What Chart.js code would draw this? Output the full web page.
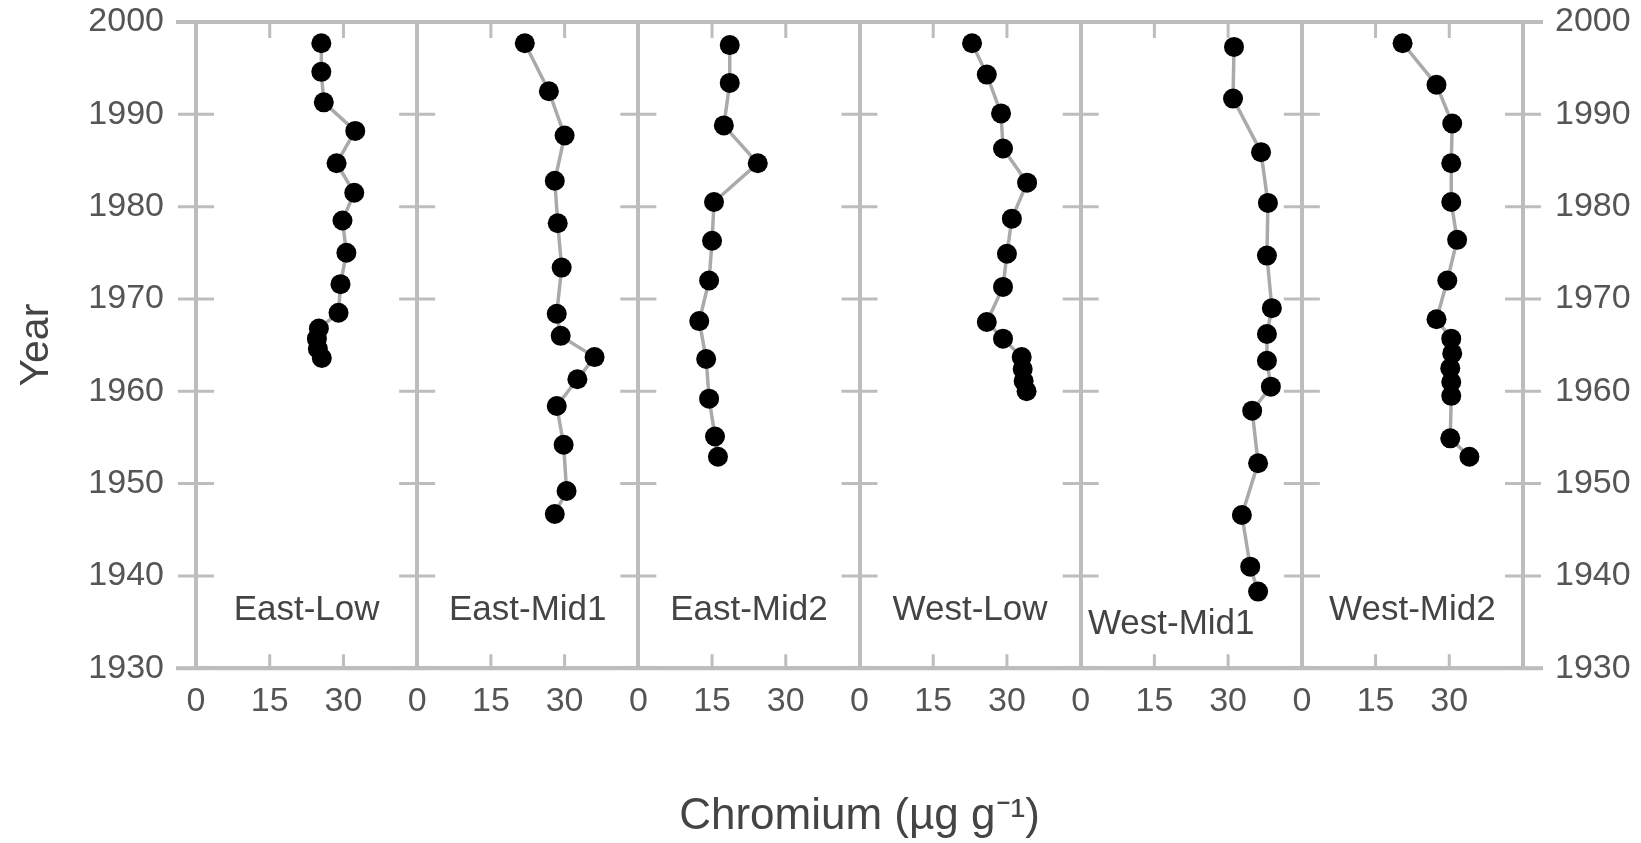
<!DOCTYPE html>
<html>
<head>
<meta charset="utf-8">
<script src="https://cdn.jsdelivr.net/npm/chart.js@4.4.1/dist/chart.umd.min.js"></script>
<style>
  body { margin: 0; background: #fff; }
  canvas { display: block; }
</style>
</head>
<body>
<canvas id="crChart" width="1641" height="843"></canvas>
<script>
// sites, left to right
var sites = ['East-Low', 'East-Mid1', 'East-Mid2', 'West-Low', 'West-Mid1', 'West-Mid2'];
var yearTicks = [1930, 1940, 1950, 1960, 1970, 1980, 1990, 2000];
var crTicks = [0, 15, 30, 45];

// core dates (year) and chromium (ug/g)
var eastLowYear  = [1997.7, 1994.6, 1991.3, 1988.2, 1984.7, 1981.5, 1978.5, 1975.0, 1971.6, 1968.5, 1966.8, 1965.7, 1964.6, 1963.6];
var eastLowCr    = [25.5, 25.5, 26.0, 32.4, 28.6, 32.2, 29.8, 30.6, 29.4, 29.0, 25.0, 24.6, 24.8, 25.6];

var eastMid1Year = [1997.7, 1992.5, 1987.7, 1982.8, 1978.2, 1973.4, 1968.4, 1966.0, 1963.7, 1961.3, 1958.4, 1954.2, 1949.2, 1946.7];
var eastMid1Cr   = [21.9, 26.8, 30.0, 28.0, 28.6, 29.4, 28.4, 29.2, 36.1, 32.6, 28.4, 29.8, 30.4, 28.0];

var eastMid2Year = [1997.5, 1993.4, 1988.8, 1984.7, 1980.5, 1976.3, 1972.0, 1967.6, 1963.5, 1959.2, 1955.1, 1952.9];
var eastMid2Cr   = [18.6, 18.6, 17.4, 24.3, 15.4, 15.0, 14.4, 12.4, 13.8, 14.4, 15.6, 16.2];

var westLowYear  = [1997.7, 1994.3, 1990.1, 1986.3, 1982.6, 1978.7, 1974.9, 1971.3, 1967.5, 1965.7, 1963.7, 1962.4, 1961.1, 1960.0];
var westLowCr    = [22.9, 25.9, 28.8, 29.2, 34.1, 31.0, 30.0, 29.2, 25.9, 29.2, 33.0, 33.2, 33.4, 34.0];

var westMid1Year = [1997.3, 1991.7, 1985.9, 1980.4, 1974.7, 1969.0, 1966.2, 1963.3, 1960.5, 1957.9, 1952.2, 1946.6, 1941.0, 1938.3];
var westMid1Cr   = [31.2, 31.0, 36.7, 38.1, 37.9, 38.9, 37.9, 37.9, 38.7, 34.9, 36.1, 32.8, 34.5, 36.1];

var westMid2Year = [1997.7, 1993.2, 1989.0, 1984.7, 1980.5, 1976.4, 1972.0, 1967.8, 1965.7, 1964.1, 1962.5, 1961.0, 1959.5, 1954.9, 1952.9];
var westMid2Cr   = [20.5, 27.4, 30.6, 30.4, 30.4, 31.6, 29.6, 27.4, 30.4, 30.6, 30.2, 30.4, 30.4, 30.2, 34.1];

var siteYears = [eastLowYear, eastMid1Year, eastMid2Year, westLowYear, westMid1Year, westMid2Year];
var siteCr = [eastLowCr, eastMid1Cr, eastMid2Cr, westLowCr, westMid1Cr, westMid2Cr];

var axisGrey = '#bdbdbd';
var fontFam = '"Liberation Sans", Arial, sans-serif';
var panelIds = sites.map(function (s, i) { return 'x' + (i + 1); });

function pairs(xs, ys) {
    var out = [];
    for (var i = 0; i < xs.length; i++) {
        out.push({ x: xs[i], y: ys[i] });
    }
    return out;
}

var datasets = sites.map(function (name, i) {
    return {
        label: name,
        data: pairs(siteCr[i], siteYears[i]),
        xAxisID: panelIds[i],
        yAxisID: 'y',
        showLine: true,
        borderColor: '#aaaaaa',
        borderWidth: 3.5,
        pointRadius: 10,
        pointHoverRadius: 10,
        pointBackgroundColor: '#000',
        pointBorderColor: '#000',
        pointBorderWidth: 0
    };
});

var yTickOpts = {
    stepSize: 10,
    padding: 32,
    color: '#555',
    font: { family: fontFam, size: 34 },
    callback: function (v) { return String(v); }
};

// keep the tick padding from pushing the plot area down
function noVPad(s) {
    s.paddingTop = 0;
    s.paddingBottom = 0;
}

var scales = {
    y: {
        type: 'linear',
        position: 'left',
        min: yearTicks[0],
        max: yearTicks[yearTicks.length - 1],
        ticks: yTickOpts,
        grid: { display: false, drawTicks: false },
        border: { display: true, color: axisGrey, width: 4 },
        title: {
            display: true,
            text: 'Year',
            color: '#444',
            font: { family: fontFam, size: 41 },
            padding: { top: 12, bottom: 0 }
        },
        afterFit: function (s) { s.width = 196; noVPad(s); }
    },
    y2: {
        type: 'linear',
        position: 'right',
        min: yearTicks[0],
        max: yearTicks[yearTicks.length - 1],
        ticks: yTickOpts,
        grid: { display: false, drawTicks: false },
        border: { display: true, color: axisGrey, width: 4 },
        afterFit: function (s) { s.width = 118; noVPad(s); }
    }
};

panelIds.forEach(function (id) {
    scales[id] = {
        type: 'linear',
        position: 'bottom',
        stack: 'panels',
        stackWeight: 1,
        min: crTicks[0],
        max: crTicks[crTicks.length - 1],
        ticks: {
            stepSize: 15,
            padding: 13,
            maxRotation: 0,
            autoSkip: false,
            color: '#555',
            font: { family: fontFam, size: 34 },
            callback: function (v) { return v === crTicks[crTicks.length - 1] ? '' : String(v); }
        },
        grid: {
            drawTicks: false,
            lineWidth: 4,
            color: function (ctx) {
                return ctx.tick && ctx.tick.value === 0 ? axisGrey : 'rgba(0,0,0,0)';
            }
        },
        border: { display: true, color: axisGrey, width: 4 },
        afterFit: function (s) { s.height = 80; }
    };
});

// frame bits the scales do not draw: top line, cross ticks on panel edges, inner x ticks, site names
var framePlugin = {
    id: 'frame',
    beforeDatasetsDraw: function (chart) {
        var ctx = chart.ctx, a = chart.chartArea, sc = chart.scales;
        var yS = sc.y;
        ctx.save();
        ctx.strokeStyle = axisGrey;
        ctx.lineWidth = 4;
        ctx.beginPath();
        ctx.moveTo(a.left - 20, a.top);
        ctx.lineTo(a.right + 20, a.top);
        ctx.moveTo(a.left - 20, a.bottom);
        ctx.lineTo(a.right + 20, a.bottom);
        ctx.stroke();

        var edges = panelIds.map(function (id) { return sc[id].getPixelForValue(sc[id].min); });
        var last = sc[panelIds[panelIds.length - 1]];
        edges.push(last.getPixelForValue(last.max));

        ctx.lineWidth = 3;
        ctx.beginPath();
        yS.ticks.forEach(function (t) {
            var py = yS.getPixelForValue(t.value);
            edges.forEach(function (ex) {
                ctx.moveTo(ex - 18, py);
                ctx.lineTo(ex + 18, py);
            });
        });
        panelIds.forEach(function (id) {
            var s = sc[id];
            s.ticks.forEach(function (t) {
                if (t.value <= s.min || t.value >= s.max) return;
                var px = s.getPixelForValue(t.value);
                ctx.moveTo(px, a.bottom);
                ctx.lineTo(px, a.bottom - 14);
                ctx.moveTo(px, a.top);
                ctx.lineTo(px, a.top + 16);
            });
        });
        ctx.stroke();
        ctx.restore();
    },
    afterDatasetsDraw: function (chart) {
        var ctx = chart.ctx, a = chart.chartArea, sc = chart.scales;
        ctx.save();
        ctx.fillStyle = '#444';
        ctx.font = '35px ' + fontFam;
        ctx.textAlign = 'center';
        ctx.textBaseline = 'middle';
        panelIds.forEach(function (id, i) {
            var s = sc[id];
            var cx = (s.left + s.right) / 2;
            var cy = a.bottom - 58;
            if (sites[i] === 'West-Mid1') { cx -= 20; cy += 14; }
            ctx.fillText(sites[i], cx, cy);
        });
        ctx.restore();
    }
};

var chart = new Chart(document.getElementById('crChart').getContext('2d'), {
    type: 'scatter',
    data: { datasets: datasets },
    options: {
        responsive: false,
        animation: false,
        layout: { padding: { top: 22, left: 0, right: 0, bottom: 0 } },
        plugins: {
            legend: { display: false },
            tooltip: { enabled: false },
            title: {
                display: true,
                position: 'bottom',
                fullSize: false,
                text: 'Chromium (\u00b5g g\u207b\u00b9)',
                color: '#444',
                font: { family: fontFam, size: 44, weight: 'normal' },
                padding: { top: 42, bottom: 0 }
            }
        },
        scales: scales
    },
    plugins: [framePlugin]
});
</script>
</body>
</html>
